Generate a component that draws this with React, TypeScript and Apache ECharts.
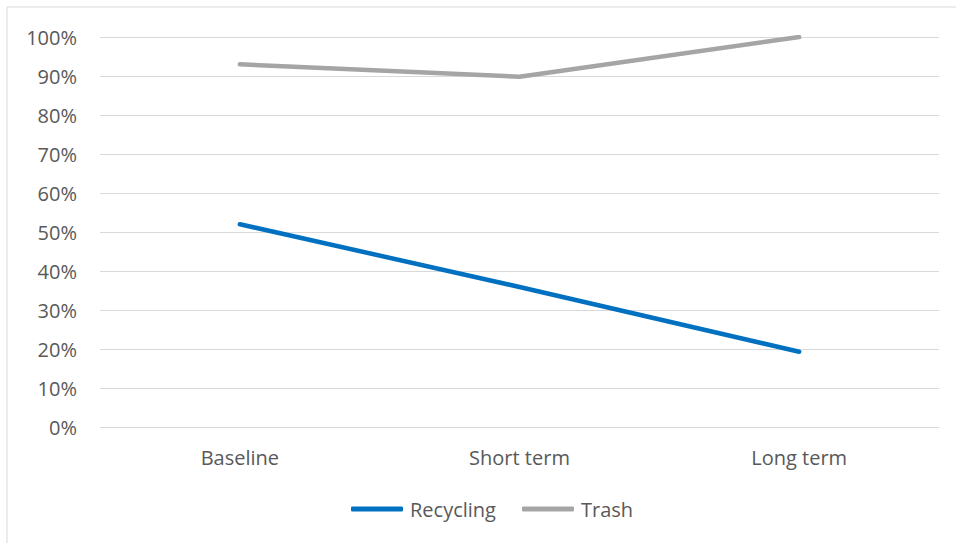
import React, { useEffect, useRef } from "react";
import * as echarts from "echarts";

const categories = ["Baseline", "Short term", "Long term"];
const recycling = [0.52, 0.359, 0.193];
const trash = [0.93, 0.898, 1.0];
const yTicks = [0, 0.1, 0.2, 0.3, 0.4, 0.5, 0.6, 0.7, 0.8, 0.9, 1.0];

const FONT = "'Open Sans', sans-serif";
const FS = 20;

export default function App() {
  const ref = useRef<HTMLDivElement>(null);
  useEffect(() => {
    if (!ref.current) return;
    const chart = echarts.init(ref.current, null, { renderer: "svg" });
    chart.setOption({
      animation: false,
      graphic: [
        {
          type: "rect",
          shape: { x: 7, y: 7, width: 1000, height: 600 },
          style: { fill: "none", stroke: "#d9d9d9", lineWidth: 1 },
          silent: true,
        },
      ],
      grid: { left: 100, right: 17, top: 37, bottom: 116, containLabel: false },
      legend: {
        left: 346,
        top: 494,
        icon: "roundRect",
        itemWidth: 52,
        itemHeight: 5,
        itemGap: 26,
        textStyle: { fontFamily: FONT, fontSize: FS, color: "#595959", padding: [0, 0, 0, 2] },
        data: ["Recycling", "Trash"],
      },
      xAxis: {
        type: "category",
        data: categories,
        boundaryGap: true,
        axisLine: { show: false },
        axisTick: { show: false },
        axisLabel: { fontFamily: FONT, fontSize: FS, color: "#595959", margin: 20 },
      },
      yAxis: {
        type: "value",
        min: yTicks[0],
        max: yTicks[yTicks.length - 1],
        interval: 0.1,
        axisLine: { show: false },
        axisTick: { show: false },
        splitLine: { lineStyle: { color: "#d9d9d9", width: 1 } },
        axisLabel: {
          fontFamily: FONT,
          fontSize: FS,
          color: "#595959",
          margin: 23,
          formatter: (v: number) => Math.round(v * 100) + "%",
        },
      },
      series: [
        {
          name: "Recycling",
          type: "line",
          data: recycling,
          symbol: "none",
          lineStyle: { color: "#0070C0", width: 4.5, cap: "round" },
          itemStyle: { color: "#0070C0" },
        },
        {
          name: "Trash",
          type: "line",
          data: trash,
          symbol: "none",
          lineStyle: { color: "#A5A5A5", width: 4.5, cap: "round" },
          itemStyle: { color: "#A5A5A5" },
        },
      ],
    });
    return () => chart.dispose();
  }, []);
  return (
    <div
      ref={ref}
      style={{ position: "absolute", left: 0, top: 0, width: 956, height: 543, background: "#fff" }}
    />
  );
}
